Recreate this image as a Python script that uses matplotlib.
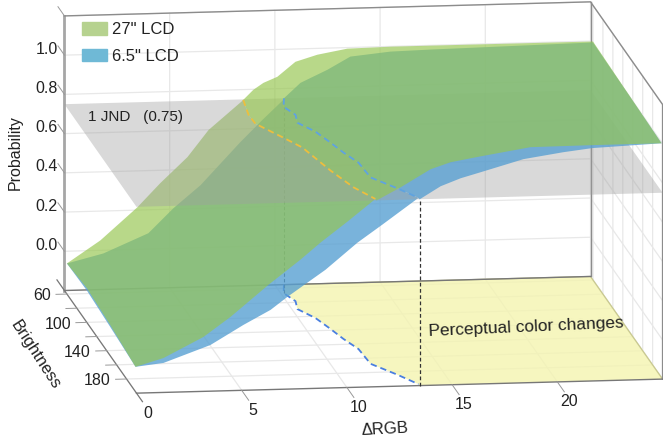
#!/usr/bin/env python
# -*- coding: utf-8 -*-

import matplotlib
matplotlib.use("Agg")
import matplotlib.pyplot as plt
from matplotlib.patches import Patch
from mpl_toolkits.mplot3d import proj3d
from mpl_toolkits.mplot3d.art3d import Poly3DCollection

plt.rcParams['font.family'] = ['Liberation Sans', 'DejaVu Sans']

# Values
rgb_ticks = [0, 5, 10, 15, 20]
brightness_grid = [60, 80, 100, 120, 140, 160, 180]
brightness_labels = [60, 100, 140, 180]
prob_ticks = [0.0, 0.2, 0.4, 0.6, 0.8, 1.0]
grid_z = [-0.2, 0.0, 0.2, 0.4, 0.6, 0.8, 1.0, 1.2]
jnd = 0.75

# surface edges: back = brightness 60, front = brightness 198
edge_b_back = 60
edge_b_front = 198

lcd27_back_x = [0, 1.59, 3.35, 4.44, 5.73, 6.73, 8.39, 8.86, 9.34, 10.0, 10.86, 11.9, 13.33, 15.4, 25]
lcd27_back_z = [-0.044, 0.069, 0.233, 0.353, 0.482, 0.617, 0.766, 0.816, 0.85, 0.879, 0.953, 0.986, 1.013, 1.017, 1.016]
lcd27_front_x = [0, 1.33, 3.23, 4.52, 6.32, 7.84, 8.79, 10.08, 11.45, 12.6, 14.02, 14.97, 16.4, 18.77, 21.72, 25]
lcd27_front_z = [-0.073, -0.032, 0.07, 0.169, 0.327, 0.451, 0.535, 0.639, 0.742, 0.806, 0.894, 0.927, 0.953, 0.993, 0.995, 0.995]
lcd27_left_b = [100, 147]
lcd27_left_z = [-0.025, -0.043]
lcd27_jnd_x = [8.48, 8.24, 8.27, 9.12, 9.68, 10.24, 10.76, 11.4]
lcd27_jnd_b = [55.7, 76.6, 89.3, 109.7, 124, 157, 181, 198]

lcd65_back_x = [0, 1.73, 3.87, 5.06, 6.35, 8.25, 9.29, 10.29, 11.1, 12.38, 13.47, 15.37, 17.28, 25]
lcd65_back_z = [-0.044, 0.002, 0.099, 0.223, 0.337, 0.552, 0.661, 0.761, 0.845, 0.908, 0.972, 0.992, 0.997, 1.011]
lcd65_front_x = [0, 1.33, 3.56, 5.13, 6.42, 7.22, 9.03, 10.55, 11.74, 13.5, 14.5, 15.45, 16.4, 18.44, 20.34, 21.72, 25]
lcd65_front_z = [-0.073, -0.057, 0.028, 0.126, 0.199, 0.263, 0.396, 0.53, 0.619, 0.742, 0.806, 0.844, 0.872, 0.933, 0.963, 0.98, 0.995]
lcd65_left_b = [100, 147]
lcd65_left_z = [-0.037, -0.053]
lcd65_jnd_x = [10.43, 10.14, 10.43, 10.26, 10.81, 11.15, 11.43, 11.8, 11.88, 12.77, 13.45]
lcd65_jnd_b = [55, 66.8, 78.3, 89.4, 102.5, 118, 132.5, 147, 168, 184, 198]

lcd27_color = (150 / 255, 198 / 255, 80 / 255, 0.67)
lcd65_color = (88 / 255, 160 / 255, 210 / 255, 0.8)
plane_color = (160 / 255, 160 / 255, 160 / 255, 0.4)
floor_color = (244 / 255, 244 / 255, 176 / 255, 0.8)
grid_color = '#E8E8E8'
frame_color = '#8C8C8C'
text_color = '#222222'

S = 778.0
W, H = 663.0, 443.0
left = 363.5 - 0.095 / 0.185 * S
bottom = (H - 197.5) - 0.095 / 0.185 * S

fig = plt.figure(figsize=(6.63, 4.43), dpi=100)
ax = fig.add_axes([left / W, bottom / H, S / W, S / H], projection='3d', proj_type='ortho')
ax.computed_zorder = False
ax.view_init(elev=11.25, azim=-97.8)
ax.set_box_aspect((531, 531, 280))
ax.set_xlim(0, 25)
ax.set_ylim(200, 55)
ax.set_zlim(-0.2, 1.2)
ax.set_axis_off()
M = ax.get_proj()


def line(xs, ys, zs, color=frame_color, lw=1.0, zorder=3, **kw):
    ax.plot(xs, ys, zs, color=color, lw=lw, zorder=zorder, **kw)


def poly(points, color, zorder):
    pc = Poly3DCollection([points], facecolors=[color], edgecolors='none', linewidths=0)
    pc.set_zorder(zorder)
    ax.add_collection3d(pc)


def label(x, b, z, s, size=11.5, rotation=0, ha='center'):
    # 3d position, but the text itself stays a plain 2d text
    u, v, _ = proj3d.proj_transform(x, b, z, M)
    ax.text2D(u, v, s, transform=ax.transData, fontsize=size, rotation=rotation,
              ha=ha, va='center', rotation_mode='anchor', color=text_color, zorder=11)


def sheet_parts(back_x, back_z, front_x, front_z, left_b, left_z, jnd_x, jnd_b):
    # split one surface along its JND contour, lower part and upper part
    cont = [(x, b, jnd) for x, b in zip(jnd_x, jnd_b)]
    back = [(x, edge_b_back, z) for x, z in zip(back_x, back_z)]
    front = [(x, edge_b_front, z) for x, z in zip(front_x, front_z)]
    side = [(0, b, z) for b, z in zip(left_b, left_z)]
    low = [p for p in back if p[0] < jnd_x[0]] + cont
    low += [p for p in front if p[0] < jnd_x[-1]][::-1] + side[::-1]
    high = [p for p in back if p[0] > jnd_x[0]]
    high += [p for p in front if p[0] > jnd_x[-1]][::-1] + cont[::-1]
    return low, high


# grid
for b in brightness_grid:
    line([0, 25, 25], [b, b, b], [-0.2, -0.2, 1.2], color=grid_color, lw=0.9, zorder=1)
for x in rgb_ticks + [25]:
    line([x, x, x], [200, 55, 55], [-0.2, -0.2, 1.2], color=grid_color, lw=0.9, zorder=1)
for z in grid_z:
    line([0, 25, 25], [55, 55, 200], [z, z, z], color=grid_color, lw=0.9, zorder=1)

# floor region beyond the 6.5" contour
floor_pts = [(x, b, -0.2) for x, b in zip(lcd65_jnd_x, lcd65_jnd_b)]
floor_pts += [(lcd65_jnd_x[-1], 200, -0.2), (25, 200, -0.2), (25, 55, -0.2)]
poly(floor_pts, floor_color, 2)
line([lcd65_jnd_x[0], 25, 25], [55, 55, 200], [-0.2, -0.2, -0.2], color='#C9C98F', lw=0.9, zorder=2.5)

# box
line([0, 0], [55, 55], [-0.2, 1.2], color='#A6A6A6', lw=2.0)
line([0, 25, 25, 25, 25], [55, 55, 200, 200, 200], [1.2, 1.2, 1.2, 1.2, -0.2], lw=1.0)
line([25, 25], [55, 55], [-0.2, 1.2], lw=1.0)
line([0, 25], [55, 55], [-0.2, -0.2], color='#777777', lw=1.0)
line([0, 25], [200, 200], [-0.2, -0.2], color='#777777', lw=1.0)
line([0, 0], [40, 212], [-0.2, -0.2], color='#777777', lw=0.9)

# ticks
for z in prob_ticks + [1.2]:
    line([0, 0], [55, 42], [z, z], lw=0.7, color='#999999')
for x in rgb_ticks[1:]:
    line([x, x], [200, 214], [-0.2, -0.2], lw=0.7, color='#999999')
for b in brightness_grid:
    line([0, -0.52], [b, b], [-0.2, -0.2], lw=0.7, color='#999999')

# dashes on the floor and the two drop lines
line(lcd65_jnd_x, lcd65_jnd_b, [-0.2] * len(lcd65_jnd_x), color='#4A7FE0', lw=1.3, zorder=4, ls=(0, (3.5, 2.2)))
line([lcd65_jnd_x[1]] * 2, [lcd65_jnd_b[1]] * 2, [-0.2, jnd], color='#444444', lw=0.8, zorder=4, ls=(0, (3, 2)))

low65, high65 = sheet_parts(lcd65_back_x, lcd65_back_z, lcd65_front_x, lcd65_front_z,
                            lcd65_left_b, lcd65_left_z, lcd65_jnd_x, lcd65_jnd_b)
low27, high27 = sheet_parts(lcd27_back_x, lcd27_back_z, lcd27_front_x, lcd27_front_z,
                            lcd27_left_b, lcd27_left_z, lcd27_jnd_x, lcd27_jnd_b)

poly(low65, lcd65_color, 5)
poly(low27, lcd27_color, 6)
poly([(0, 55, jnd), (25, 55, jnd), (25, 200, jnd), (0, 200, jnd)], plane_color, 7)
poly(high65, lcd65_color, 8)
poly(high27, lcd27_color, 9)

line(lcd27_jnd_x, lcd27_jnd_b, [jnd] * len(lcd27_jnd_x), color='#EDBE3E', lw=1.3, zorder=10, ls=(0, (3.5, 2.2)))
line(lcd65_jnd_x, lcd65_jnd_b, [jnd] * len(lcd65_jnd_x), color='#5FA3E0', lw=1.3, zorder=10, ls=(0, (3.5, 2.2)))
line([lcd65_jnd_x[-1]] * 2, [200, 200], [-0.2, jnd], color='#333333', lw=0.9, zorder=10, ls=(0, (3, 2)))

# tick labels
for z in prob_ticks:
    label(0, 42, z - 0.017, '%.1f' % z, ha='right')
for x in rgb_ticks:
    label(x - 0.12, 228, -0.2, str(x))
for b in brightness_labels:
    label(-0.8, b + 2, -0.2, str(b), ha='right')

# axis names and notes
label(-2.33, 55, 0.51, 'Probability', rotation=90)
label(-3.48, 143.9, -0.2, 'Brightness', size=12, rotation=-57)
label(10.43, 259, -0.2, 'ΔRGB', size=12, rotation=3)
label(1.1, 55, jnd - 0.07, '1 JND   (0.75)', size=11, ha='left')
label(20.34, 122.6, -0.2, 'Perceptual color changes', size=12.4, rotation=2.5)

fig.legend(handles=[Patch(color=(182 / 255, 210 / 255, 143 / 255), label='27" LCD'),
                    Patch(color=(111 / 255, 185 / 255, 214 / 255), label='6.5" LCD')],
           loc='upper left', bbox_to_anchor=(79 / W, 1 - 19 / H), frameon=False, fontsize=12,
           handlelength=1.45, handleheight=0.75, handletextpad=0.35, labelspacing=0.7,
           borderpad=0.2, borderaxespad=0, labelcolor=text_color)

fig.savefig('out.png', dpi=100)
